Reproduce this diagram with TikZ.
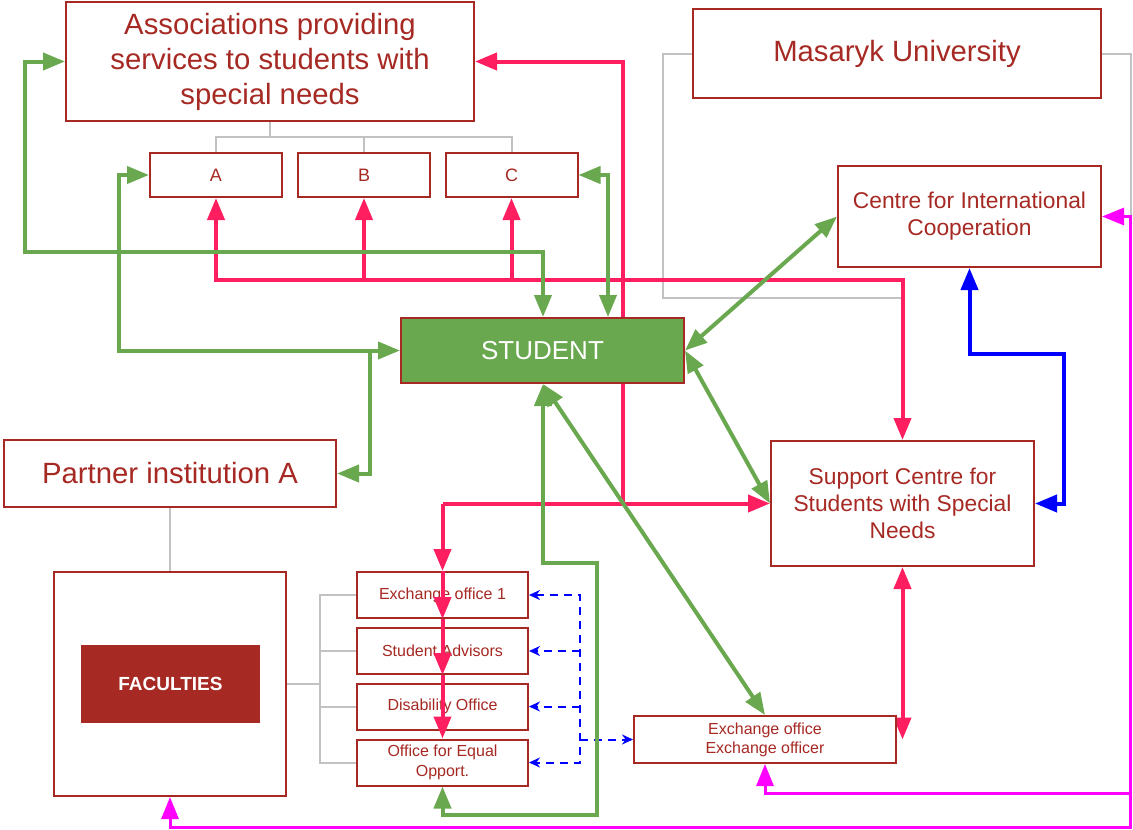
\documentclass[tikz,border=0pt]{standalone}
\usepackage{fontspec}
\setmainfont{Liberation Sans}
\usetikzlibrary{arrows.meta, backgrounds}
\definecolor{boxred}{RGB}{166,41,35}
\definecolor{linkpink}{RGB}{255,31,96}
\definecolor{linkgreen}{RGB}{106,168,79}
\definecolor{linkmagenta}{RGB}{255,0,255}
\definecolor{treegrey}{RGB}{194,194,194}
\tikzset{
x=1pt, y=-1pt, % one unit is one pixel of the layout
box/.style={draw=boxred, line width=2pt, fill=white, text=boxred, inner sep=0pt, align=center}, % every box
big text/.style={font=\fontsize{29.3}{35}\selectfont},
mid text/.style={font=\fontsize{22.8}{27}\selectfont},
small text/.style={font=\fontsize{16}{20}\selectfont},
green link/.style={draw=linkgreen, line width=4pt, >={Triangle[length=22pt,width=17pt]}},
pink link/.style={draw=linkpink, line width=4pt, >={Triangle[length=22pt,width=17pt]}},
blue link/.style={draw=blue, line width=4pt, >={Triangle[length=22pt,width=17pt]}},
magenta link/.style={draw=linkmagenta, line width=3pt, >={Triangle[length=22pt,width=17pt]}},
dash link/.style={draw=blue, line width=2pt, dash pattern=on 8pt off 6pt, >={Stealth[length=11pt,width=10pt]}},
tree link/.style={draw=treegrey, line width=2pt},
}

\begin{document}
\begin{tikzpicture}
\useasboundingbox (0,0) rectangle (1133,830);

% boxes
\node[box, big text, minimum width=408pt, minimum height=119pt] at (270,61.5) (assoc) {Associations providing\\services to students with\\special needs};
\node[box, font=\fontsize{18}{22}\selectfont, minimum width=132pt, minimum height=44pt] at (216,175) (asa) {A};
\node[box, font=\fontsize{18}{22}\selectfont, minimum width=132pt, minimum height=44pt] at (364,175) (asb) {B};
\node[box, font=\fontsize{18}{22}\selectfont, minimum width=132pt, minimum height=44pt] at (511.5,175) (asc) {C};
\node[box, big text, minimum width=408pt, minimum height=89pt] at (897,53.5) (mu) {Masaryk University};
\node[box, mid text, minimum width=263pt, minimum height=101pt] at (969.5,216.5) (cic) {Centre for International\\Cooperation};
\node[box, fill=linkgreen, text=white, font=\fontsize{26}{30}\selectfont, minimum width=283pt, minimum height=65pt] at (542.5,350.5) (stud) {STUDENT};
\node[box, mid text, minimum width=263pt, minimum height=125pt] at (902.5,503.5) (sc) {Support Centre for\\Students with Special\\Needs};
\node[box, big text, minimum width=332pt, minimum height=67pt] at (170,473.5) (partner) {Partner institution A};
\node[box, minimum width=232pt, minimum height=224pt] at (170,684) (fac) {};
\node[fill=boxred, text=white, font=\fontsize{19}{22}\bfseries, minimum width=179pt, minimum height=78pt] at (170.5,684) (facin) {FACULTIES};
\node[box, small text, minimum width=171pt, minimum height=46pt] at (442.5,595) (ex1) {Exchange office 1};
\node[box, small text, minimum width=171pt, minimum height=46pt] at (442.5,651) (adv) {Student Advisors};
\node[box, small text, minimum width=171pt, minimum height=46pt] at (442.5,706.5) (dis) {Disability Office};
\node[box, small text, minimum width=171pt, minimum height=46pt] at (442.5,762.5) (eq) {Office for Equal\\Opport.};
\node[box, small text, font=\fontsize{16}{19}\selectfont, minimum width=262pt, minimum height=47pt] at (765,739.5) (exo) {Exchange office\\Exchange officer};

% grey lines, pink lines behind the boxes
\begin{pgfonlayer}{background}
\draw[tree link] (assoc.south) -- (assoc.south |- 0,137);
\draw[tree link] (asa.north) |- (asc.north |- 0,137) -- (asc.north);
\draw[tree link] (asb.north) -- (asb.north |- 0,137);
\draw[tree link] (mu.west) -| (663,298) -- (sc.north |- 0,298);
\draw[tree link] (mu.east) -| (1131,827);
\draw[tree link] (partner.south) -- (fac.north);
\draw[tree link] (fac.east) -- (fac.east -| 320,0);
\draw[tree link] (ex1.west) -- (ex1.west -| 320,0) |- (eq.west);
\draw[tree link] (adv.west) -- (adv.west -| 320,0);
\draw[tree link] (dis.west) -- (dis.west -| 320,0);
\draw[pink link,<-] (assoc.east) -| (623,503.5);
\draw[pink link,<->] (sc.south) -- (sc.south |- exo.east);
\end{pgfonlayer}

% pink
\draw[pink link,<->] (asa.south) -- (asa.south |- 0,280) -| (sc.north);
\draw[pink link,<-] (asb.south) -- (asb.south |- 0,280);
\draw[pink link,<-] (asc.south) -- (asc.south |- 0,280);
\draw[pink link,->] (ex1.north |- sc.west) -- (sc.west);
\draw[pink link,->] (ex1.north |- sc.west) -- (ex1.north);
\draw[pink link,->] (ex1.north) -- (ex1.south);
\draw[pink link,->] (ex1.south) -- (adv.south);
\draw[pink link,->] (adv.south) -- (eq.north);

% blue
\draw[blue link,<->] (cic.south) |- (1064,354) |- (sc.east);
\draw[dash link,<->] (ex1.east) -- (580,595) -- (580,762.5) -- (eq.east);
\draw[dash link,->] (580,651) -- (adv.east);
\draw[dash link,->] (580,706.5) -- (dis.east);
\draw[dash link,->] (580,739.5) -- (exo.west);

% magenta
\draw[magenta link,<->] (cic.east) -- (1130,216.5) -- (1130,827) -| (fac.south);
\draw[magenta link,->] (1130,793) -| (exo.south);

% green
\draw[green link,<->] (assoc.west) -| (25,252) -| ([xshift=0.5pt]stud.north);
\draw[green link,<->] (asc.east) -| ([xshift=65.5pt]stud.north);
\draw[green link,<->] (asa.west) -| (119,350.5) -- (stud.west);
\draw[green link,->] (370,350.5) |- (partner.east);
\draw[green link,<->] (stud.east) -- (cic.west);
\draw[green link,<->] (stud.east) -- (sc.west);
\draw[green link,<->] ([xshift=0.5pt]stud.south) -- (exo.north);
\draw[green link,<->] ([xshift=0.5pt]stud.south) -- (543,563) -- (597,563) -- (597,815) -| (eq.south);
\end{tikzpicture}
\end{document}
